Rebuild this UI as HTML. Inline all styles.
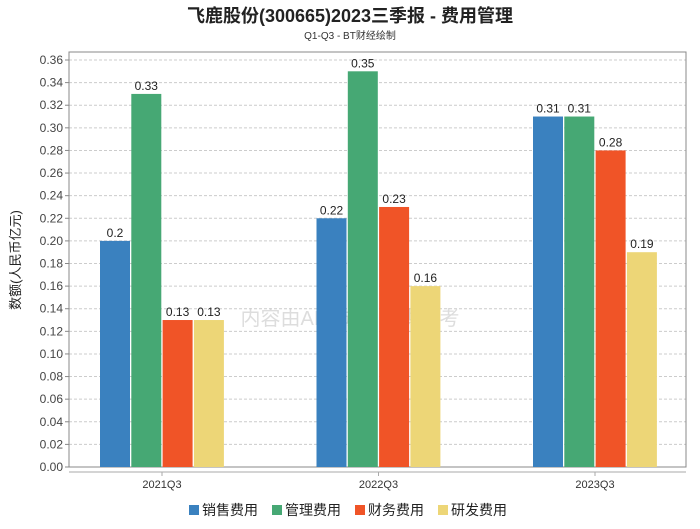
<!DOCTYPE html>
<html><head><meta charset="utf-8"><style>
body{margin:0;background:#fff;font-family:"Liberation Sans","Noto Sans CJK SC",sans-serif}
</style></head><body>
<svg width="700" height="524" xmlns="http://www.w3.org/2000/svg" id="c" font-family="Liberation Sans, Noto Sans CJK SC, sans-serif">
<text x="350" y="22" text-anchor="middle" font-size="18" font-weight="bold" fill="#222">飞鹿股份(300665)2023三季报 - 费用管理</text>
<text x="350" y="39" text-anchor="middle" font-size="10" fill="#333">Q1-Q3 - BT财经绘制</text>
<text transform="translate(20,260) rotate(-90)" text-anchor="middle" font-size="13" fill="#222">数额(人民币亿元)</text>
<text x="350" y="325" text-anchor="middle" font-size="20" fill="#ddd">内容由AI生成，仅供参考</text>
<g id="grid"></g><g id="bars"></g><g id="legend"></g>
</svg>
<script>
const categories=["2021Q3","2022Q3","2023Q3"];
const seriesNames=["销售费用","管理费用","财务费用","研发费用"];
const sales=[0.2,0.22,0.31];
const admin=[0.33,0.35,0.31];
const finance=[0.13,0.23,0.28];
const rnd=[0.13,0.16,0.19];
const yTicks=["0.00","0.02","0.04","0.06","0.08","0.10","0.12","0.14","0.16","0.18","0.20","0.22","0.24","0.26","0.28","0.30","0.32","0.34","0.36"];
const series=[sales,admin,finance,rnd];
const colors=["#3a81bf","#46a874","#f05427","#edd677"];
const NS="http://www.w3.org/2000/svg";
const L=69,R=686,T=52,B=467;
const y=v=>B-v/0.36*407;
const xc=i=>162+216.5*i;
function mk(t,a,p){const e=document.createElementNS(NS,t);for(const k in a)e.setAttribute(k,a[k]);p.appendChild(e);return e;}
const g=document.getElementById('grid');
yTicks.forEach(t=>{const v=parseFloat(t),yy=y(v);
 const ln=mk('line',{x1:L,x2:R,y1:yy,y2:yy,stroke:'#ccc','stroke-dasharray':'3,2'},g);
 
 const tx=mk('text',{x:L-6,y:yy+4,'text-anchor':'end','font-size':12,fill:'#444'},g);tx.textContent=t;
 
 mk('line',{x1:L-4,x2:L,y1:yy,y2:yy,stroke:'#888'},g);
});
const fr=mk('rect',{x:L,y:T,width:R-L,height:B-T,fill:'none',stroke:'#888'},g);

const xa=mk('line',{x1:L,x2:R,y1:472,y2:472,stroke:'#aaa'},g);

const bg=document.getElementById('bars');
categories.forEach((c,i)=>{
 mk('line',{x1:xc(i),x2:xc(i),y1:472,y2:476,stroke:'#aaa'},g);
 const t=mk('text',{x:xc(i),y:488,'text-anchor':'middle','font-size':11,fill:'#333'},g);t.textContent=c;
 
 series.forEach((s,j)=>{const x0=xc(i)-62+j*31.3;
  const r=mk('rect',{x:x0,y:y(s[i]),width:30,height:B-y(s[i]),fill:colors[j]},bg);
  
  const lb=mk('text',{x:x0+15,y:y(s[i])-4,'text-anchor':'middle','font-size':12,fill:'#222'},bg);lb.textContent=String(s[i]);
  
 });
});
const lg=document.getElementById('legend');
let lx=189;
seriesNames.forEach((n,j)=>{
 const r=mk('rect',{x:lx,y:505,width:10,height:10,fill:colors[j]},lg);
 
 const t=mk('text',{x:lx+13,y:515,'font-size':14,fill:'#222'},lg);t.textContent=n;
 
 lx+=83;
});
</script>
</body></html>
